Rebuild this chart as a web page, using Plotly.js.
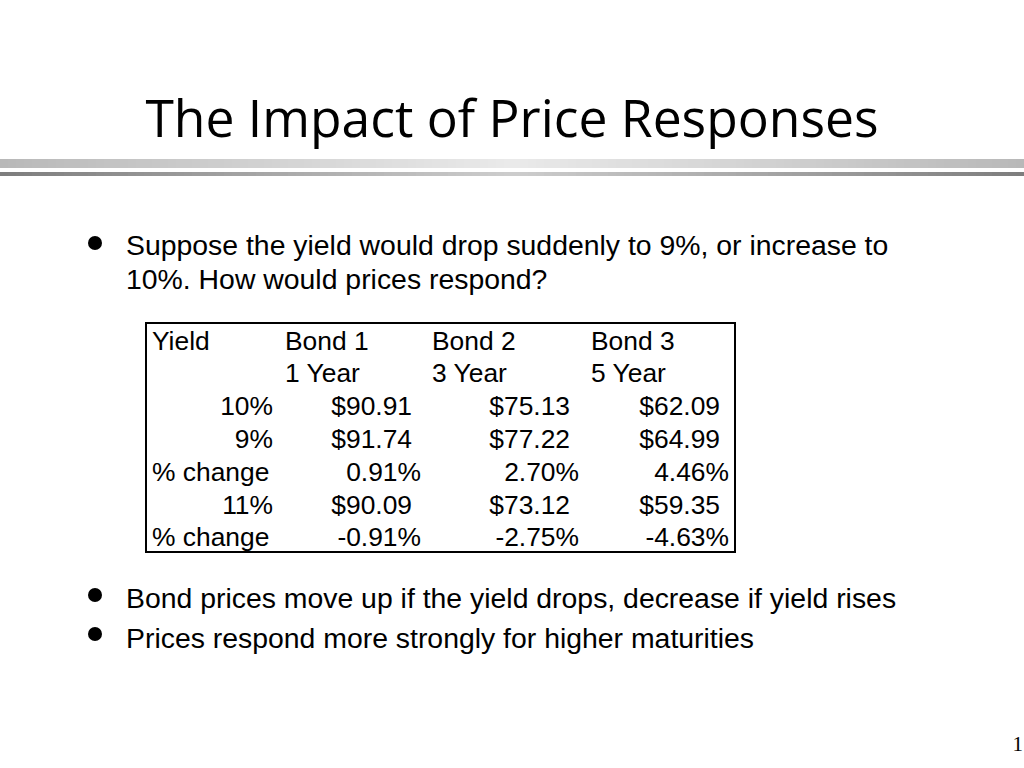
<!DOCTYPE html>
<html>
<head>
<meta charset="utf-8">
<script src="https://cdn.plot.ly/plotly-3.0.1.min.js"></script>
<style>
  html, body { margin: 0; padding: 0; background: #fff; }
  #slide { width: 1024px; height: 768px; }
</style>
</head>
<body>
<div id="slide"></div>
<script>
// slide text
const titleText = "The Impact of Price Responses";
const introLines = ["Suppose the yield would drop suddenly to 9%, or increase to",
                    "10%. How would prices respond?"];
const closingBullets = ["Bond prices move up if the yield drops, decrease if yield rises",
                        "Prices respond more strongly for higher maturities"];
const pageNumber = "1";

// table data
const bondNames = ["Bond 1", "Bond 2", "Bond 3"];
const maturities = ["1 Year", "3 Year", "5 Year"];
const rowLabels = ["10%", "9%", "% change", "11%", "% change"];
const prices10 = [90.91, 75.13, 62.09];
const prices9 = [91.74, 77.22, 64.99];
const change9 = [0.91, 2.70, 4.46];
const prices11 = [90.09, 73.12, 59.35];
const change11 = [-0.91, -2.75, -4.63];

// layout constants (pixels on the 1024x768 slide)
const W = 1024, H = 768;
const bodyFont = {family: "Liberation Sans, Arial, sans-serif", size: 28.4, color: "#000"};
const tableFont = {family: "Liberation Sans, Arial, sans-serif", size: 26.4, color: "#000"};
const box = {x0: 146, x1: 735, y0: 323, y1: 552};
const rowY0 = 343, rowH = 32.8;
const headLeft = [285, 432, 591];     // left edges of header text
const pctRight = [421, 579, 729];     // right edges of % cells
const dollarPad = 9;                  // currency cells end a little earlier
const labelRight = 273;

const rowY = i => rowY0 + i * rowH;
const money = v => "$" + v.toFixed(2);
const pct = v => v.toFixed(2) + "%";

let traces = [];

function textTrace(xs, ys, texts, pos, font) {
  return {x: xs, y: ys, text: texts, mode: "text", type: "scatter",
          textposition: pos, textfont: font, hoverinfo: "skip", cliponaxis: false};
}

// title
traces.push(textTrace([512], [124], [titleText], "middle center",
  {family: "Open Sans, Noto Sans, sans-serif", size: 51.6, color: "#000"}));

// intro bullet text
traces.push(textTrace(introLines.map(() => 126), introLines.map((t, i) => 248 + i * 34),
  introLines, "middle right", bodyFont));

// closing bullets
traces.push(textTrace(closingBullets.map(() => 126), closingBullets.map((t, i) => 601 + i * 40),
  closingBullets, "middle right", bodyFont));

// bullet dots
traces.push({x: [95, 95, 95], y: [243, 595, 634], mode: "markers", type: "scatter",
  marker: {size: 14, color: "#000"}, hoverinfo: "skip"});

// table: header rows
traces.push(textTrace([152], [rowY(0)], ["Yield"], "middle right", tableFont));
traces.push(textTrace(headLeft, bondNames.map(() => rowY(0)), bondNames, "middle right", tableFont));
traces.push(textTrace(headLeft, maturities.map(() => rowY(1)), maturities, "middle right", tableFont));

// table: row labels (yields right aligned, "% change" left aligned)
rowLabels.forEach((lab, i) => {
  if (lab.startsWith("% change")) {
    traces.push(textTrace([152], [rowY(i + 2)], [lab], "middle right", tableFont));
  } else {
    traces.push(textTrace([labelRight], [rowY(i + 2)], [lab], "middle left", tableFont));
  }
});

// table: values
const bodyRows = [
  {vals: prices10, fmt: money},
  {vals: prices9, fmt: money},
  {vals: change9, fmt: pct},
  {vals: prices11, fmt: money},
  {vals: change11, fmt: pct}
];
bodyRows.forEach((r, i) => {
  const pad = r.fmt === money ? dollarPad : 0;
  traces.push(textTrace(pctRight.map(x => x - pad), r.vals.map(() => rowY(i + 2)),
    r.vals.map(r.fmt), "middle left", tableFont));
});

// page number
traces.push(textTrace([1023], [746], [pageNumber], "middle left",
  {family: "Liberation Serif, DejaVu Serif, serif", size: 21, color: "#000"}));

// shapes: gradient rules under the title and the table border
let shapes = [];
const segs = 128;
function grey(v) { const c = Math.round(v); return "rgb(" + c + "," + c + "," + c + ")"; }
for (let s = 0; s < segs; s++) {
  const t = Math.abs((s + 0.5) / segs - 0.5) * 2; // 0 centre, 1 edge
  const xa = s * W / segs, xb = (s + 1) * W / segs + 0.5;
  shapes.push({type: "rect", xref: "x", yref: "y", x0: xa, x1: xb, y0: 159, y1: 168,
    line: {width: 0}, fillcolor: grey(234 - 50 * t)});
  shapes.push({type: "rect", xref: "x", yref: "y", x0: xa, x1: xb, y0: 172, y1: 176,
    line: {width: 0}, fillcolor: grey(205 - 80 * t)});
}
shapes.push({type: "rect", xref: "x", yref: "y", x0: box.x0, x1: box.x1, y0: box.y0, y1: box.y1,
  line: {color: "#000", width: 2}, fillcolor: "rgba(0,0,0,0)"});

const layout = {
  width: W, height: H,
  margin: {l: 0, r: 0, t: 0, b: 0},
  paper_bgcolor: "#fff", plot_bgcolor: "#fff",
  showlegend: false,
  xaxis: {range: [0, W], visible: false, fixedrange: true},
  yaxis: {range: [H, 0], visible: false, fixedrange: true},
  shapes: shapes
};

Plotly.newPlot("slide", traces, layout, {staticPlot: true});
</script>
</body>
</html>
